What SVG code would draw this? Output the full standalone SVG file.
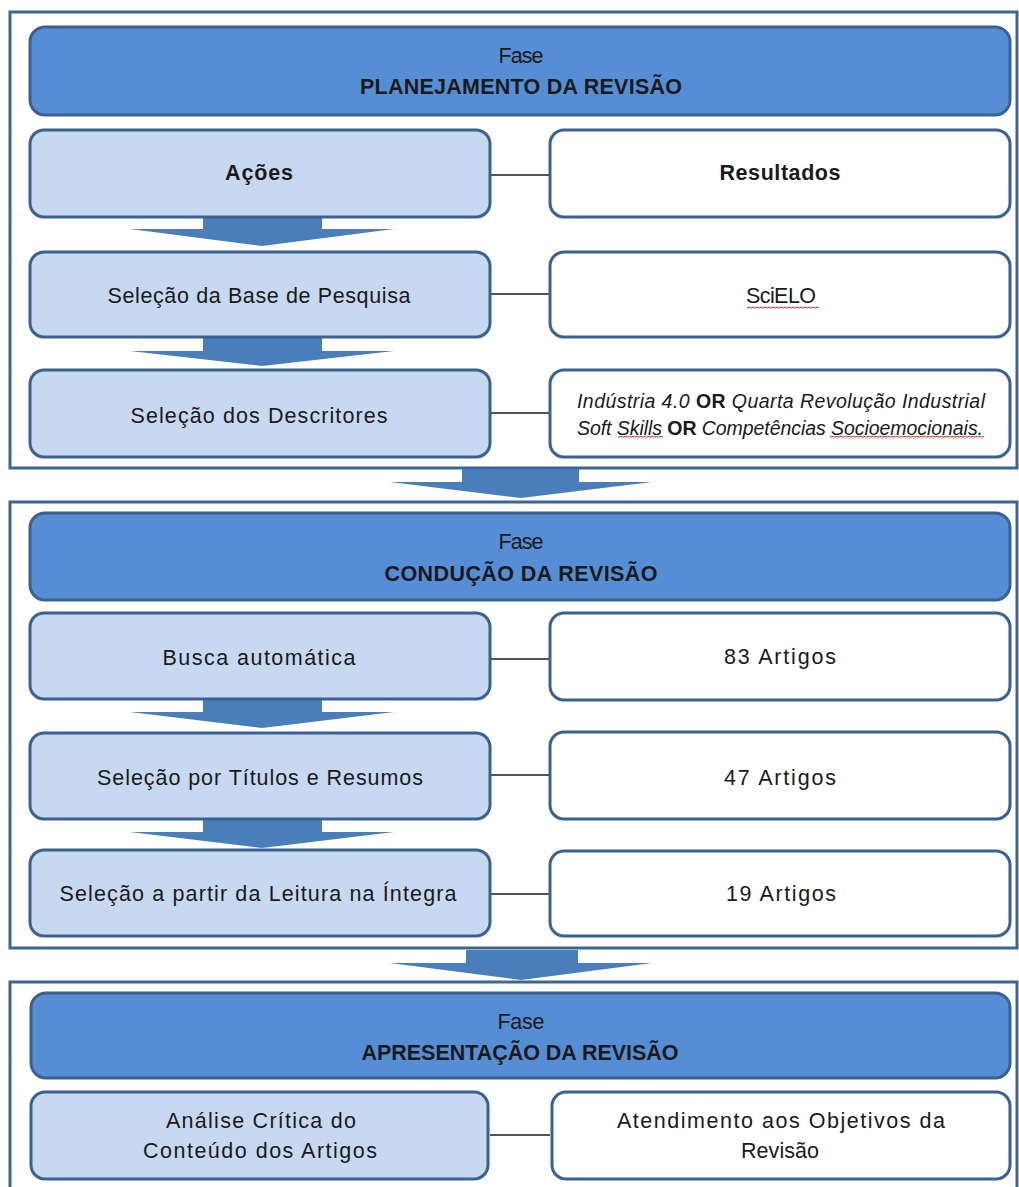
<svg xmlns="http://www.w3.org/2000/svg" width="1019" height="1187" viewBox="0 0 1019 1187">
<style>
text{font-family:"Liberation Sans",Arial,sans-serif;font-size:21.5px;fill:#1a1a1a;text-anchor:middle}
.b{font-weight:bold}
.it{font-style:italic;font-size:19.5px}
.it .or{font-style:normal;font-weight:bold}
.frame{fill:none;stroke:#3d6593;stroke-width:3}
.hdr{fill:#558ed5;stroke:#3b6190;stroke-width:3}
.act{fill:#c6d9f1;stroke:#3b6190;stroke-width:3}
.res{fill:#ffffff;stroke:#3b6190;stroke-width:3}
.conn{stroke:#1a1a1a;stroke-width:1.5}
.arr{fill:#4a7ebb}
</style>
<defs>
<pattern id="wave" x="0" y="0" width="4" height="3" patternUnits="userSpaceOnUse">
<path d="M0,2 Q1,0 2,1.5 T4,1.5" fill="none" stroke="#e02020" stroke-width="1"/>
</pattern>
</defs>
<rect width="1019" height="1187" fill="#ffffff"/>
<g id="frames">
<rect class="frame" x="10" y="12" width="1007" height="456"/>
<rect class="frame" x="10" y="502" width="1007" height="446"/>
<rect class="frame" x="10" y="982" width="1007" height="230"/>
</g>
<g id="connectors">
<line class="conn" x1="490" y1="175" x2="550" y2="175"/>
<line class="conn" x1="490" y1="294" x2="550" y2="294"/>
<line class="conn" x1="490" y1="413" x2="550" y2="413"/>
<line class="conn" x1="490" y1="659" x2="550" y2="659"/>
<line class="conn" x1="490" y1="775" x2="550" y2="775"/>
<line class="conn" x1="490" y1="894" x2="550" y2="894"/>
<line class="conn" x1="490" y1="1135" x2="550" y2="1135"/>
<polygon class="arr" points="203,217 322,217 322,229 394,229 262,246 130,229 203,229"/>
<polygon class="arr" points="203,337 322,337 322,351 394,351 262,366 130,351 203,351"/>
<polygon class="arr" points="203,699 322,699 322,712 394,712 262,728 130,712 203,712"/>
<polygon class="arr" points="203,819 322,819 322,832 394,832 262,848 130,832 203,832"/>
<polygon class="arr" points="462,469 579,469 579,482 652,482 521,498 390,482 462,482"/>
<polygon class="arr" points="466,950 578,950 578,963 652,963 521,980 390,963 466,963"/>
</g>
<g id="fase-planejamento">
<rect class="hdr" x="30" y="27" width="980" height="88" rx="15"/>
<text x="521" y="63" textLength="45">Fase</text>
<text x="521" y="94" class="b" textLength="322">PLANEJAMENTO DA REVISÃO</text>
</g>
<g id="acoes">
<rect class="act" x="30" y="130" width="460" height="87" rx="14"/>
<text x="259" y="180" class="b" textLength="68">Ações</text>
</g>
<g id="resultados">
<rect class="res" x="550" y="130" width="460" height="87" rx="14"/>
<text x="780" y="180" class="b" textLength="121">Resultados</text>
</g>
<g id="selecao-base">
<rect class="act" x="30" y="252" width="460" height="85" rx="14"/>
<text x="259" y="303" textLength="303">Seleção da Base de Pesquisa</text>
</g>
<g id="scielo">
<rect class="res" x="550" y="252" width="460" height="85" rx="14"/>
<text x="781" y="303" textLength="70">SciELO</text>
<rect x="747" y="306" width="72" height="3" fill="url(#wave)"/>
</g>
<g id="selecao-descritores">
<rect class="act" x="30" y="370" width="460" height="87" rx="14"/>
<text x="259" y="423" textLength="257">Seleção dos Descritores</text>
</g>
<g id="descritores">
<rect class="res" x="550" y="370" width="460" height="87" rx="14"/>
<text x="781" y="408" class="it" textLength="408"><tspan>Indústria 4.0 </tspan><tspan class="or">OR</tspan><tspan> Quarta Revolução Industrial</tspan></text>
<text x="780" y="435" class="it" textLength="406"><tspan>Soft Skills </tspan><tspan class="or">OR</tspan><tspan> Competências Socioemocionais.</tspan></text>
<rect x="618" y="436" width="45" height="3" fill="url(#wave)"/>
<rect x="830" y="436" width="154" height="3" fill="url(#wave)"/>
</g>
<g id="fase-conducao">
<rect class="hdr" x="30" y="513" width="980" height="87" rx="15"/>
<text x="521" y="549" textLength="45">Fase</text>
<text x="521" y="581" class="b" textLength="273">CONDUÇÃO DA REVISÃO</text>
</g>
<g id="busca">
<rect class="act" x="30" y="613" width="460" height="86" rx="14"/>
<text x="259" y="665" textLength="193">Busca automática</text>
</g>
<g id="artigos-83">
<rect class="res" x="550" y="613" width="460" height="87" rx="14"/>
<text x="780" y="664" textLength="112">83 Artigos</text>
</g>
<g id="selecao-titulos">
<rect class="act" x="30" y="733" width="460" height="86" rx="14"/>
<text x="260" y="785" textLength="326">Seleção por Títulos e Resumos</text>
</g>
<g id="artigos-47">
<rect class="res" x="550" y="732" width="460" height="87" rx="14"/>
<text x="780" y="785" textLength="112">47 Artigos</text>
</g>
<g id="selecao-leitura">
<rect class="act" x="30" y="850" width="460" height="86" rx="14"/>
<text x="258" y="901" textLength="397">Seleção a partir da Leitura na Íntegra</text>
</g>
<g id="artigos-19">
<rect class="res" x="550" y="851" width="460" height="85" rx="14"/>
<text x="781" y="901" textLength="110">19 Artigos</text>
</g>
<g id="fase-apresentacao">
<rect class="hdr" x="31" y="993" width="979" height="85" rx="15"/>
<text x="521" y="1029" textLength="47">Fase</text>
<text x="520" y="1060" class="b" textLength="317">APRESENTAÇÃO DA REVISÃO</text>
</g>
<g id="analise">
<rect class="act" x="31" y="1092" width="457" height="87" rx="14"/>
<text x="261" y="1128" textLength="190">Análise Crítica do</text>
<text x="260" y="1158" textLength="234">Conteúdo dos Artigos</text>
</g>
<g id="atendimento">
<rect class="res" x="552" y="1092" width="458" height="87" rx="14"/>
<text x="781" y="1128" textLength="328">Atendimento aos Objetivos da</text>
<text x="780" y="1158" textLength="78">Revisão</text>
</g>
</svg>
